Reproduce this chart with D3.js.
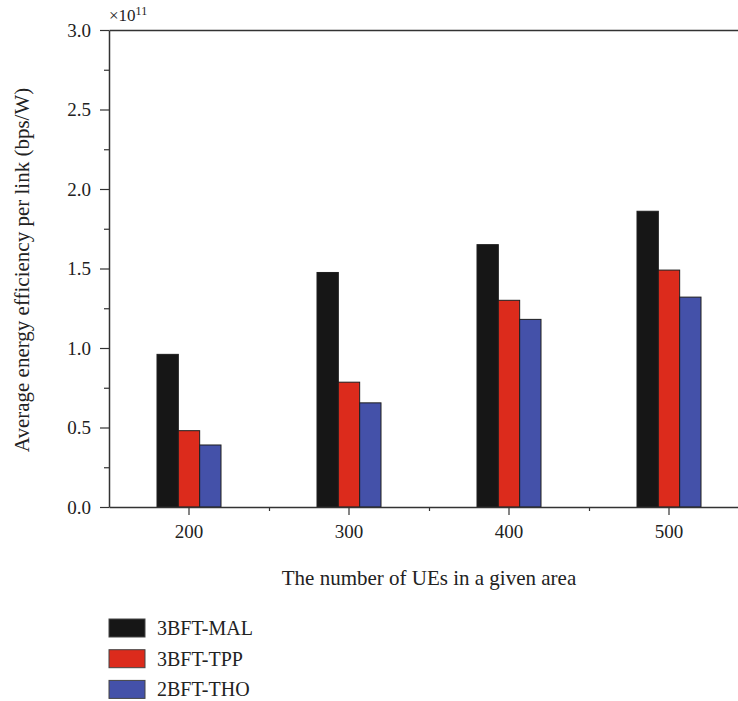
<!DOCTYPE html>
<html>
<head>
<meta charset="utf-8">
<script src="https://cdn.jsdelivr.net/npm/d3@7"></script>
<style>
  html, body { margin: 0; padding: 0; background: #fff; }
  svg { display: block; font-family: "Liberation Serif", "DejaVu Serif", serif; }
</style>
</head>
<body>
<svg id="chart" width="738" height="701"></svg>
<script>
// Number of UEs per area (x categories)
const categories = ["200", "300", "400", "500"];
// Series names and values, in units of 1e11 bps/W
const seriesNames = ["3BFT-MAL", "3BFT-TPP", "2BFT-THO"];
const mal = [0.96, 1.475, 1.65, 1.86];
const tpp = [0.48, 0.785, 1.30, 1.49];
const tho = [0.39, 0.655, 1.18, 1.32];
const seriesValues = [mal, tpp, tho];
const seriesColors = ["#161616", "#dc2b1c", "#4451a9"];
const yTicks = [0, 0.5, 1.0, 1.5, 2.0, 2.5, 3.0];
const yMinorTicks = [0.25, 0.75, 1.25, 1.75, 2.25, 2.75];

const svg = d3.select("#chart");
const axisColor = "#333";
const textColor = "#222";

const x = d3.scaleBand().domain(categories).range([109, 749]).padding(0);
const x1 = d3.scaleBand().domain(seriesNames).range([-32, 32]).padding(0);
const y = d3.scaleLinear().domain([0, 3]).range([507, 30]);

// Bars
const rows = categories.map((c, i) => ({ cat: c, vals: seriesNames.map((s, j) => ({ s, j, v: seriesValues[j][i] })) }));
const groups = svg.append("g").selectAll("g").data(rows).join("g")
  .attr("transform", d => `translate(${x(d.cat) + x.bandwidth() / 2},0)`);
groups.selectAll("rect").data(d => d.vals).join("rect")
  .attr("x", d => x1(d.s))
  .attr("width", x1.bandwidth())
  .attr("y", d => y(d.v))
  .attr("height", d => y(0) - y(d.v))
  .attr("fill", d => seriesColors[d.j])
  .attr("stroke", "#1e1e1e")
  .attr("stroke-width", 1);

// Y axis with major and minor ticks
const yAxis = svg.append("g").attr("transform", "translate(109,0)")
  .call(d3.axisLeft(y).tickValues(yTicks).tickFormat(d3.format(".1f")).tickSize(9).tickSizeOuter(0).tickPadding(9));
yAxis.selectAll(".tick text").attr("font-size", 19).attr("fill", textColor).attr("font-family", "Liberation Serif");
svg.append("g").attr("transform", "translate(109,0)")
  .call(d3.axisLeft(y).tickValues(yMinorTicks).tickFormat("").tickSize(5).tickSizeOuter(0))
  .select(".domain").remove();

// X axis with category ticks and minor ticks between groups
const xAxis = svg.append("g").attr("transform", "translate(0,507)")
  .call(d3.axisBottom(x).tickSize(8).tickSizeOuter(0).tickPadding(10));
xAxis.selectAll(".tick text").attr("font-size", 19).attr("fill", textColor).attr("font-family", "Liberation Serif");
const xMinor = d3.scaleLinear().domain([0, categories.length]).range(x.range());
svg.append("g").attr("transform", "translate(0,507)")
  .call(d3.axisBottom(xMinor).tickValues([1, 2, 3]).tickFormat("").tickSize(4).tickSizeOuter(0))
  .select(".domain").remove();

// Top frame line
svg.append("g").attr("transform", "translate(0,30)")
  .call(d3.axisTop(x).tickValues([]).tickSizeOuter(0));

svg.selectAll(".domain").attr("stroke", axisColor).attr("stroke-width", 1.5);
svg.selectAll(".tick line").attr("stroke", axisColor).attr("stroke-width", 1.2);

// Exponent label
const expo = svg.append("text").attr("x", 109).attr("y", 21).attr("font-size", 17).attr("fill", textColor);
expo.append("tspan").text("×10");
expo.append("tspan").attr("font-size", 12).attr("dy", -6).text("11");

// Axis titles
svg.append("text")
  .attr("transform", `translate(29,270) rotate(-90)`)
  .attr("text-anchor", "middle")
  .attr("font-size", 21).attr("fill", textColor)
  .text("Average energy efficiency per link (bps/W)");
svg.append("text")
  .attr("x", 429).attr("y", 585)
  .attr("text-anchor", "middle")
  .attr("font-size", 21).attr("fill", textColor)
  .text("The number of UEs in a given area");

// Legend
const legend = svg.append("g").selectAll("g").data(seriesNames).join("g")
  .attr("transform", (d, i) => `translate(109,${619 + i * 30.7})`);
legend.append("rect").attr("width", 36).attr("height", 18)
  .attr("fill", (d, i) => seriesColors[i]).attr("stroke", "#444").attr("stroke-width", 1);
legend.append("text").attr("x", 48).attr("y", 9).attr("dominant-baseline", "central")
  .attr("font-size", 20).attr("fill", textColor).text(d => d);
</script>
</body>
</html>
